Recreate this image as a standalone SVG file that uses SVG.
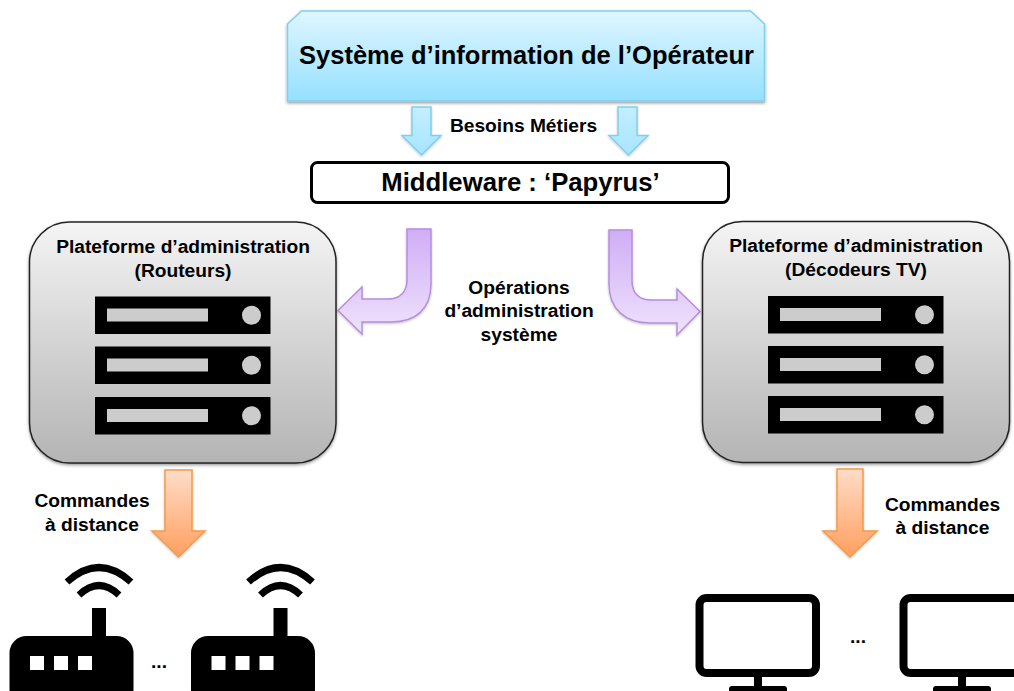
<svg xmlns="http://www.w3.org/2000/svg" width="1014" height="691" viewBox="0 0 1014 691">
<style>
text{font-family:"Liberation Sans",Arial,sans-serif;font-weight:700;fill:#000;text-anchor:middle}
.lbl{font-size:19.2px}
.plat{fill:url(#gGrey);stroke:#222;stroke-width:1.5;filter:url(#sh)}
.blue{fill:url(#gBlueA);stroke:#7fd0f0;stroke-width:1.5;filter:url(#shs)}
.purple{fill:url(#gPurple);stroke:#b48fe0;stroke-width:1.5;filter:url(#shs)}
.orange{fill:url(#gOrange);stroke:#f59a46;stroke-width:1.5;filter:url(#shs)}
.bar{fill:#ccc}
.wave{fill:none;stroke:#000;stroke-width:7}
</style>
<defs>
<linearGradient id="gBlue" x1="0" y1="0" x2="0" y2="1"><stop offset="0" stop-color="#dff6ff"/><stop offset="1" stop-color="#95e0ff"/></linearGradient>
<linearGradient id="gBlueA" x1="0" y1="0" x2="0" y2="1"><stop offset="0" stop-color="#c4eeff"/><stop offset="1" stop-color="#a6e5ff"/></linearGradient>
<linearGradient id="gGrey" x1="0" y1="0" x2="0" y2="1"><stop offset="0" stop-color="#f4f4f4"/><stop offset="1" stop-color="#b4b4b4"/></linearGradient>
<linearGradient id="gPurple" x1="0" y1="0" x2="0" y2="1"><stop offset="0" stop-color="#d0adf5"/><stop offset="1" stop-color="#efe3fd"/></linearGradient>
<linearGradient id="gOrange" x1="0" y1="0" x2="0" y2="1"><stop offset="0" stop-color="#ffdcc8"/><stop offset="1" stop-color="#ff9f5e"/></linearGradient>
<filter id="sh" x="-5%" y="-5%" width="110%" height="110%"><feDropShadow dx="0" dy="1.5" stdDeviation="1.5" flood-color="#000" flood-opacity="0.4"/></filter>
<filter id="shs" x="-15%" y="-15%" width="130%" height="130%"><feDropShadow dx="0" dy="1" stdDeviation="1" flood-color="#000" flood-opacity="0.25"/></filter>
<g id="server">
<rect x="0" y="0" width="175.5" height="37.5" fill="#000"/>
<rect class="bar" x="12" y="12" width="101" height="13"/>
<circle class="bar" cx="156.5" cy="18.7" r="9.5"/>
</g>
<g id="router">
<path class="wave" d="M67 582 Q99 553 131 582"/>
<path class="wave" d="M79 595 Q99 576 119 595"/>
<rect x="92" y="608" width="14" height="30" fill="#000"/>
<rect x="9.5" y="636" width="124" height="70" rx="17" fill="#000"/>
<rect x="30" y="656" width="14" height="14" fill="#fff"/>
<rect x="54" y="656" width="14" height="14" fill="#fff"/>
<rect x="78" y="656" width="14" height="14" fill="#fff"/>
</g>
<g id="monitor">
<rect x="699.5" y="598" width="116.5" height="75" rx="7" fill="#fff" stroke="#000" stroke-width="8"/>
<rect x="754" y="676" width="8" height="11" fill="#000"/>
<rect x="729" y="686" width="58" height="12" rx="3" fill="#000"/>
</g>
</defs>

<g id="connectors">
<path id="arrow-besoins-l" class="blue" d="M412 107H431V135.5H441L421.5 155 402 135.5H412Z"/>
<path id="arrow-besoins-r" class="blue" d="M618 107H637V135.5H648L628.5 155 609 135.5H618Z"/>
<path id="arrow-admin-l" class="purple" d="M407 229H431V284C431 309 416 322 391 322H362V334L338 310.5 362 287V299H388C400 299 407 292 407 280Z"/>
<path id="arrow-admin-r" class="purple" d="M609 230H632V281C632 293 639 300 651 300H677V289L700 311.5 677 335V323H650C625 323 609 309 609 284Z"/>
<path id="arrow-cmd-l" class="orange" d="M165 470H192V531H205L178.500 557 152 531H165Z"/>
<path id="arrow-cmd-r" class="orange" d="M837 469H863V531H877L850 557 823 531H837Z"/>
</g>

<g id="node-si">
<path d="M301.500 11H750.500L764.500 24V101H287.500V24Z" fill="url(#gBlue)" stroke="#7fd0f0" stroke-width="1.5" filter="url(#sh)"/>
<text x="526.500" y="64" font-size="25.5">Système d’information de l’Opérateur</text>
</g>
<text id="label-besoins" class="lbl" x="523.500" y="132">Besoins Métiers</text>

<g id="node-middleware">
<rect x="311.500" y="162.500" width="417" height="40" rx="6" fill="#fff" stroke="#000" stroke-width="3"/>
<text x="520.500" y="191" font-size="25.700">Middleware : ‘Papyrus’</text>
</g>

<g id="node-plateforme-routeurs">
<rect class="plat" x="29.500" y="222" width="306.500" height="241" rx="40"/>
<text class="lbl" x="183" y="253">Plateforme d’administration</text>
<text class="lbl" x="183" y="277">(Routeurs)</text>
<use href="#server" x="95" y="296.500"/>
<use href="#server" x="95" y="346.500"/>
<use href="#server" x="95" y="397"/>
</g>

<g id="node-plateforme-decodeurs">
<rect class="plat" x="702.500" y="221.500" width="307" height="241" rx="40"/>
<text class="lbl" x="856" y="252">Plateforme d’administration</text>
<text class="lbl" x="856" y="276">(Décodeurs TV)</text>
<use href="#server" x="768" y="296"/>
<use href="#server" x="768" y="346"/>
<use href="#server" x="768" y="396"/>
</g>

<g id="label-operations">
<text class="lbl" x="519" y="294">Opérations</text>
<text class="lbl" x="519" y="317">d’administration</text>
<text class="lbl" x="519" y="341">système</text>
</g>

<g id="label-cmd-l">
<text class="lbl" x="92" y="507">Commandes</text>
<text class="lbl" x="92" y="531">à distance</text>
</g>
<g id="label-cmd-r">
<text class="lbl" x="942.500" y="511">Commandes</text>
<text class="lbl" x="942.500" y="534">à distance</text>
</g>

<g id="node-router-1"><use href="#router"/></g>
<text id="dots-routers" class="lbl" x="159" y="668">...</text>
<g id="node-router-2"><use href="#router" x="181.500"/></g>

<g id="node-monitor-1"><use href="#monitor"/></g>
<text id="dots-monitors" class="lbl" x="858" y="643">...</text>
<g id="node-monitor-2"><use href="#monitor" x="204"/></g>
</svg>
